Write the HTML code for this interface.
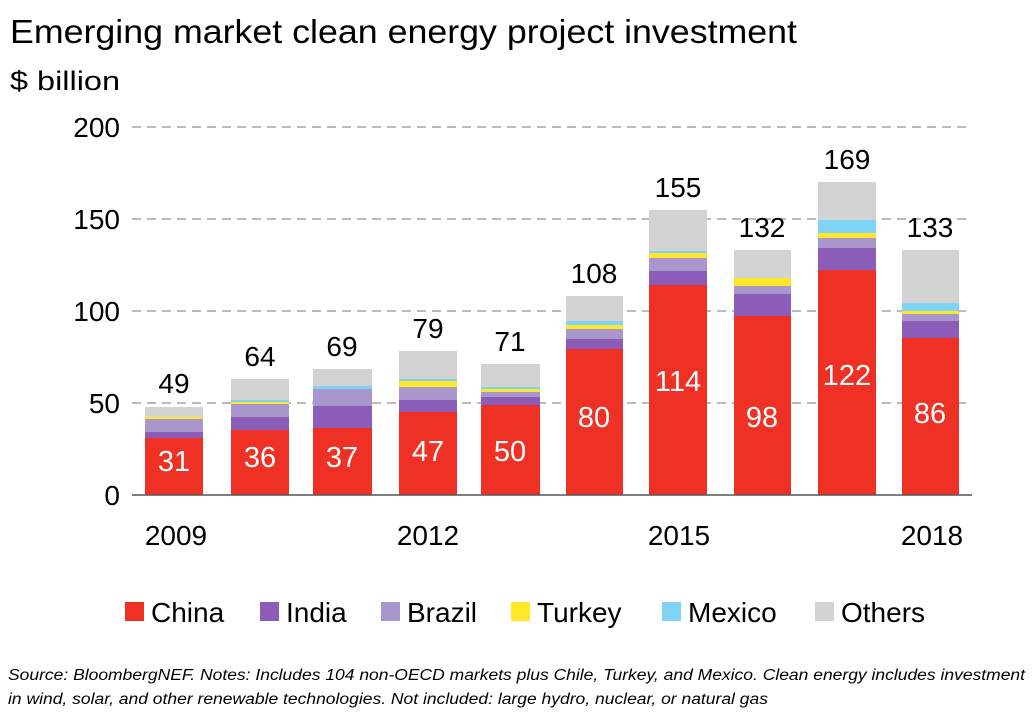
<!DOCTYPE html><html><head><style>body{margin:0;background:#fff;}svg text{font-family:"Liberation Sans",sans-serif;}
.r{fill:#ee3124}.i{fill:#8b5cb8}.b{fill:#a996cc}.y{fill:#ffe82a}.m{fill:#7fd3f5}.o{fill:#d3d3d3}</style></head><body>
<svg width="1032" height="723" xmlns="http://www.w3.org/2000/svg">
<text x="10" y="43" font-size="33" fill="#000" textLength="787" lengthAdjust="spacingAndGlyphs">Emerging market clean energy project investment</text>
<text x="10" y="90" font-size="27" fill="#000" textLength="110" lengthAdjust="spacingAndGlyphs">$ billion</text>
<g stroke="#bbb" stroke-width="2" stroke-dasharray="9,6">
<line x1="132" y1="127" x2="972" y2="127"/><line x1="132" y1="219" x2="972" y2="219"/><line x1="132" y1="311" x2="972" y2="311"/><line x1="132" y1="403" x2="972" y2="403"/></g>
<g font-size="28" text-anchor="end" fill="#000"><text x="120" y="137">200</text><text x="120" y="229">150</text><text x="120" y="321">100</text><text x="120" y="413">50</text><text x="120" y="505">0</text></g>
<g>
<rect class="o" x="145" y="407" width="58" height="10"/><rect class="y" x="145" y="417" width="58" height="2"/><rect class="b" x="145" y="419" width="58" height="13"/><rect class="i" x="145" y="432" width="58" height="6"/><rect class="r" x="145" y="438" width="58" height="57"/>
<rect class="o" x="231" y="379" width="58" height="21"/><rect class="m" x="231" y="400" width="58" height="2"/><rect class="y" x="231" y="402" width="58" height="2"/><rect class="b" x="231" y="404" width="58" height="13"/><rect class="i" x="231" y="417" width="58" height="13"/><rect class="r" x="231" y="430" width="58" height="65"/>
<rect class="o" x="313" y="369" width="59" height="17"/><rect class="m" x="313" y="386" width="59" height="3"/><rect class="b" x="313" y="389" width="59" height="17"/><rect class="i" x="313" y="406" width="59" height="22"/><rect class="r" x="313" y="428" width="59" height="67"/>
<rect class="o" x="399" y="351" width="58" height="28"/><rect class="m" x="399" y="379" width="58" height="2"/><rect class="y" x="399" y="381" width="58" height="6"/><rect class="b" x="399" y="387" width="58" height="13"/><rect class="i" x="399" y="400" width="58" height="12"/><rect class="r" x="399" y="412" width="58" height="83"/>
<rect class="o" x="481" y="364" width="59" height="23"/><rect class="m" x="481" y="387" width="59" height="2"/><rect class="y" x="481" y="389" width="59" height="3"/><rect class="b" x="481" y="392" width="59" height="5"/><rect class="i" x="481" y="397" width="59" height="8"/><rect class="r" x="481" y="405" width="59" height="90"/>
<rect class="o" x="566" y="296" width="57" height="25"/><rect class="m" x="566" y="321" width="57" height="4"/><rect class="y" x="566" y="325" width="57" height="4"/><rect class="b" x="566" y="329" width="57" height="10"/><rect class="i" x="566" y="339" width="57" height="10"/><rect class="r" x="566" y="349" width="57" height="146"/>
<rect class="o" x="649" y="210" width="58" height="41"/><rect class="m" x="649" y="251" width="58" height="2"/><rect class="y" x="649" y="253" width="58" height="5"/><rect class="b" x="649" y="258" width="58" height="13"/><rect class="i" x="649" y="271" width="58" height="14"/><rect class="r" x="649" y="285" width="58" height="210"/>
<rect class="o" x="734" y="250" width="57" height="28"/><rect class="y" x="734" y="278" width="57" height="8"/><rect class="b" x="734" y="286" width="57" height="8"/><rect class="i" x="734" y="294" width="57" height="22"/><rect class="r" x="734" y="316" width="57" height="179"/>
<rect class="o" x="818" y="182" width="58" height="38"/><rect class="m" x="818" y="220" width="58" height="13"/><rect class="y" x="818" y="233" width="58" height="5"/><rect class="b" x="818" y="238" width="58" height="10"/><rect class="i" x="818" y="248" width="58" height="22"/><rect class="r" x="818" y="270" width="58" height="225"/>
<rect class="o" x="902" y="250" width="57" height="53"/><rect class="m" x="902" y="303" width="57" height="8"/><rect class="y" x="902" y="311" width="57" height="3"/><rect class="b" x="902" y="314" width="57" height="7"/><rect class="i" x="902" y="321" width="57" height="17"/><rect class="r" x="902" y="338" width="57" height="157"/>
</g>
<g font-size="28" text-anchor="middle" fill="#000">
<text x="174" y="393">49</text><text x="260" y="366">64</text><text x="342" y="356">69</text><text x="428" y="338">79</text><text x="510" y="351">71</text><text x="594" y="283">108</text><text x="678" y="197">155</text><text x="762" y="237">132</text><text x="847" y="169">169</text><text x="930" y="237">133</text></g>
<g font-size="29" text-anchor="middle" fill="#fff">
<text x="174" y="471">31</text><text x="260" y="467">36</text><text x="342" y="467">37</text><text x="428" y="461">47</text><text x="510" y="461">50</text><text x="594" y="427">80</text><text x="678" y="391">114</text><text x="762" y="427">98</text><text x="847" y="385">122</text><text x="930" y="423">86</text></g>
<line x1="132" y1="495" x2="972" y2="495" stroke="#555" stroke-width="1.5"/>
<g font-size="28" text-anchor="middle"><text x="176" y="545">2009</text><text x="428" y="545">2012</text><text x="679" y="545">2015</text><text x="932" y="545">2018</text></g>
<g font-size="28">
<rect x="125" y="602" width="19" height="19" class="r"/><text x="151" y="622">China</text>
<rect x="260" y="602" width="19" height="19" class="i"/><text x="286" y="622">India</text>
<rect x="381" y="602" width="19" height="19" class="b"/><text x="407" y="622">Brazil</text>
<rect x="511" y="602" width="19" height="19" class="y"/><text x="537" y="622">Turkey</text>
<rect x="662" y="602" width="19" height="19" class="m"/><text x="688" y="622">Mexico</text>
<rect x="815" y="602" width="19" height="19" class="o"/><text x="841" y="622">Others</text></g>
<g font-size="15.5" font-style="italic" fill="#000"><text x="8" y="680" textLength="1017" lengthAdjust="spacingAndGlyphs">Source: BloombergNEF. Notes: Includes 104 non-OECD markets plus Chile, Turkey, and Mexico. Clean energy includes investment</text><text x="8" y="704" textLength="760" lengthAdjust="spacingAndGlyphs">in wind, solar, and other renewable technologies. Not included: large hydro, nuclear, or natural gas</text></g>
</svg></body></html>
